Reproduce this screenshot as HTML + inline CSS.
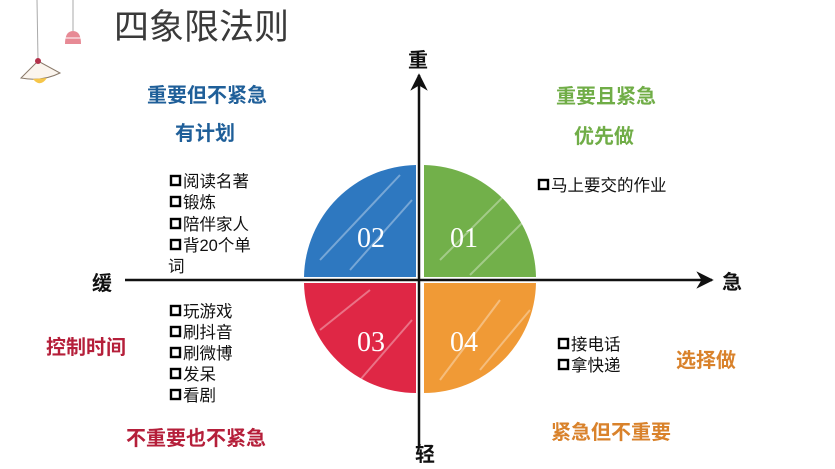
<!DOCTYPE html>
<html><head><meta charset="utf-8"><style>
html,body{margin:0;padding:0;background:#fff;}
svg{display:block;font-family:"Liberation Sans","Noto Sans CJK SC",sans-serif;}
.b{font-weight:bold;font-size:20px;}
.t{font-size:16.5px;fill:#111;}
.n{font-family:"Liberation Serif","Noto Serif CJK SC",serif;font-size:28px;fill:#fff;}
</style></head><body>
<svg width="835" height="469" viewBox="0 0 835 469">
<defs>
<marker id="ar" viewBox="0 0 10 10" refX="9" refY="5" markerWidth="7" markerHeight="7" orient="auto"><path d="M0,0 L10,5 L0,10 L3,5z" fill="#111"/></marker>
</defs>
<!-- lamps -->
<line x1="37" y1="0" x2="38" y2="60" stroke="#aaa" stroke-width="1"/>
<path d="M21,78 L38,61 L60,73 Q42,82 21,78z" fill="#fbf5ee" stroke="#8a7a6a" stroke-width="1"/>
<circle cx="38" cy="61" r="3" fill="#b3304a"/>
<path d="M33,79 Q40,88 47,78z" fill="#f6c64a"/>
<line x1="73" y1="0" x2="73" y2="31" stroke="#aaa" stroke-width="1"/>
<path d="M65,44 Q65,31 73,31 Q81,31 81,44z" fill="#e78a95"/>
<line x1="65" y1="38" x2="81" y2="38" stroke="#fff" stroke-width="1"/>
<!-- title -->
<text x="114" y="39" font-size="35" fill="#3a3a3a">四象限法则</text>
<!-- quadrants -->
<path d="M416,277 L416,165 A114,114 0 0 0 304,277z" fill="#2e78c0"/>
<path d="M424,277 L424,165 A114,114 0 0 1 536,277z" fill="#72b04a"/>
<path d="M416,283 L416,393 A112,112 0 0 1 304,283z" fill="#df2745"/>
<path d="M424,283 L424,393 A112,112 0 0 0 536,283z" fill="#f09a36"/>
<g stroke="#fff" stroke-opacity="0.35" stroke-width="2">
<line x1="320" y1="260" x2="400" y2="175"/><line x1="350" y1="270" x2="412" y2="200"/>
<line x1="440" y1="260" x2="510" y2="190"/><line x1="470" y1="275" x2="530" y2="215"/>
<line x1="320" y1="330" x2="370" y2="290"/><line x1="360" y1="380" x2="412" y2="320"/>
<line x1="440" y1="380" x2="500" y2="300"/><line x1="480" y1="370" x2="530" y2="310"/>
</g>
<text class="n" x="357" y="247">02</text>
<text class="n" x="450" y="247">01</text>
<text class="n" x="357" y="351">03</text>
<text class="n" x="450" y="351">04</text>
<!-- axes -->
<line x1="125" y1="280" x2="712" y2="280" stroke="#111" stroke-width="2.5" marker-end="url(#ar)"/>
<line x1="419" y1="448" x2="419" y2="75" stroke="#111" stroke-width="2.5" marker-end="url(#ar)"/>
<text class="b" x="408" y="67" fill="#111">重</text>
<text class="b" x="415" y="461" fill="#111">轻</text>
<text class="b" x="92" y="290" fill="#111">缓</text>
<text class="b" x="722" y="289" fill="#111">急</text>
<!-- labels -->
<text class="b" x="207" y="102" text-anchor="middle" fill="#1f5f99">重要但不紧急</text>
<text class="b" x="205" y="140" text-anchor="middle" fill="#1f5f99">有计划</text>
<text class="b" x="606" y="103" text-anchor="middle" fill="#70ad47">重要且紧急</text>
<text class="b" x="604" y="143" text-anchor="middle" fill="#70ad47">优先做</text>
<text class="b" x="86" y="354" text-anchor="middle" fill="#b51f3a">控制时间</text>
<text class="b" x="196" y="445" text-anchor="middle" fill="#b51f3a">不重要也不紧急</text>
<text class="b" x="706" y="367" text-anchor="middle" fill="#d9822b">选择做</text>
<text class="b" x="611" y="439" text-anchor="middle" fill="#d9822b">紧急但不重要</text>
<!-- lists -->
<g fill="none" stroke="#000" stroke-width="2.4">
<rect x="171" y="176" width="9" height="9"/><rect x="171" y="197" width="9" height="9"/>
<rect x="171" y="219" width="9" height="9"/><rect x="171" y="240" width="9" height="9"/>
<rect x="171" y="306" width="9" height="9"/><rect x="171" y="327" width="9" height="9"/>
<rect x="171" y="348" width="9" height="9"/><rect x="171" y="369" width="9" height="9"/>
<rect x="171" y="390" width="9" height="9"/>
<rect x="539" y="180" width="9" height="9"/>
<rect x="559" y="339" width="9" height="9"/><rect x="559" y="360" width="9" height="9"/>
</g>
<g class="t">
<text x="183" y="187">阅读名著</text><text x="183" y="208">锻炼</text>
<text x="183" y="230">陪伴家人</text><text x="183" y="251">背20个单</text>
<text x="168" y="272">词</text>
<text x="183" y="317">玩游戏</text><text x="183" y="338">刷抖音</text>
<text x="183" y="359">刷微博</text><text x="183" y="380">发呆</text>
<text x="183" y="401">看剧</text>
<text x="551" y="191">马上要交的作业</text>
<text x="571" y="350">接电话</text><text x="571" y="371">拿快递</text>
</g>
</svg>
</body></html>
